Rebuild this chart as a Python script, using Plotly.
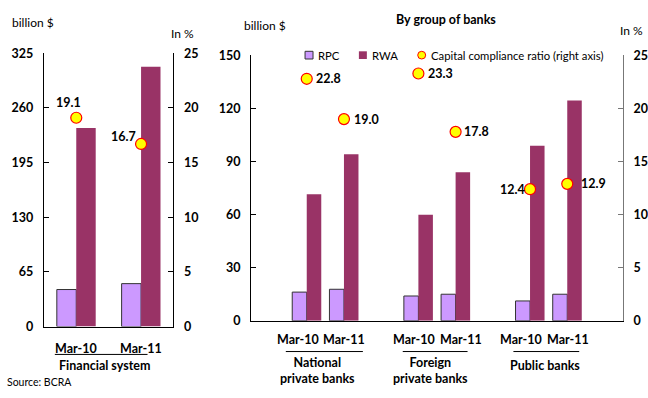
import plotly.graph_objects as go

# ---------------- data ----------------
dates = ["Mar-10", "Mar-11"]
fs_rpc = [44, 51]
fs_rwa = [236, 309]
fs_ratio = [19.1, 16.7]

groups = ["National<br>private banks", "Foreign<br>private banks", "Public banks"]
grp_rpc = [16.2, 17.8, 14.0, 15.0, 11.2, 15.0]
grp_rwa = [71.5, 94.2, 60.0, 84.0, 99.0, 124.5]
grp_ratio = [22.8, 19.0, 23.3, 17.8, 12.4, 12.9]

left_ticks = [0, 65, 130, 195, 260, 325]
right_ticks = [0, 5, 10, 15, 20, 25]
grp_ticks = [0, 30, 60, 90, 120, 150]

# ---------------- style ----------------
W, H = 648, 398
RPC_C = "#CC99FF"
RWA_C = "#993366"
FONT = "Lato"


def px(x):
    return x / W


def py(y):
    return 1 - y / H


def bold(size=12):
    return dict(family=FONT, size=size, color="black", weight="bold")


# x positions
fs_x = list(range(len(dates)))
grp_x = [g * 3 + d + 1 for g in range(len(groups)) for d in range(len(dates))]
grp_labels = [dates[d] for g in range(len(groups)) for d in range(len(dates))]

fig = go.Figure()

# left panel
fig.add_trace(go.Bar(x=fs_x, y=fs_rpc, width=0.3, offset=-0.3, marker=dict(color=RPC_C, line=dict(color="#333333", width=1)),
                     xaxis="x", yaxis="y", showlegend=False))
fig.add_trace(go.Bar(x=fs_x, y=fs_rwa, width=0.3, offset=0, marker=dict(color=RWA_C, line=dict(width=0)),
                     xaxis="x", yaxis="y", showlegend=False))
fig.add_trace(go.Scatter(x=fs_x, y=fs_ratio, mode="markers", xaxis="x", yaxis="y2",
                         marker=dict(size=11, color="#FFFF00", line=dict(color="#FF0000", width=1.2)), showlegend=False))

# right panel
fig.add_trace(go.Bar(x=grp_x, y=grp_rpc, width=0.39, offset=-0.39, marker=dict(color=RPC_C, line=dict(color="#333333", width=1)),
                     xaxis="x3", yaxis="y3", showlegend=False))
fig.add_trace(go.Bar(x=grp_x, y=grp_rwa, width=0.39, offset=0, marker=dict(color=RWA_C, line=dict(width=0)),
                     xaxis="x3", yaxis="y3", showlegend=False))
fig.add_trace(go.Scatter(x=grp_x, y=grp_ratio, mode="markers", xaxis="x3", yaxis="y4",
                         marker=dict(size=11, color="#FFFF00", line=dict(color="#FF0000", width=1.2)), showlegend=False))

axis_common = dict(ticks="inside", ticklen=5, tickcolor="black", showgrid=False, zeroline=False,
                   showline=True, linecolor="black", linewidth=1, tickfont=bold(12.5), fixedrange=True,
                   ticklabelstandoff=7)

fig.update_layout(
    width=W, height=H, margin=dict(l=0, r=0, t=0, b=0),
    paper_bgcolor="white", plot_bgcolor="rgba(0,0,0,0)",
    barmode="overlay", showlegend=False,
    font=dict(family=FONT, color="black"),
    xaxis=dict(domain=[px(44), px(174)], range=[-0.5, 1.5], anchor="y", showticklabels=False, ticks="",
               showline=True, linecolor="black", showgrid=False, zeroline=False, fixedrange=True),
    yaxis=dict(domain=[py(331), py(47)], range=[0, 325], tickvals=left_ticks, anchor="x", **axis_common),
    yaxis2=dict(range=[0, 25], tickvals=right_ticks, overlaying="y", side="right", anchor="x", **axis_common),
    xaxis3=dict(domain=[px(251.7), px(625)], range=[-0.5, 9.5], anchor="y3", showticklabels=False, ticks="",
                showline=True, linecolor="black", showgrid=False, zeroline=False, fixedrange=True),
    yaxis3=dict(domain=[py(325), py(49.3)], range=[0, 150], tickvals=grp_ticks, anchor="x3", **axis_common),
    yaxis4=dict(range=[0, 25], tickvals=right_ticks, overlaying="y3", side="right", anchor="x3",
                **{**axis_common, "linecolor": "#777777", "tickcolor": "#777777"}),
)

ann = []
shapes = []
lab = bold(12.5)

# data labels left panel
fs_shift = [(-8, 15), (-18, 7)]
for i, v in enumerate(fs_ratio):
    dx, dy = fs_shift[i]
    ann.append(dict(x=fs_x[i], y=v, xref="x", yref="y2", text=f"{v:.1f}", showarrow=False,
                    xshift=dx, yshift=dy, font=bold(12.5), xanchor="center", yanchor="middle"))

# data labels right panel
grp_shift = [22, 23, 22, 21, -18, 26]
for i, v in enumerate(grp_ratio):
    ann.append(dict(x=grp_x[i], y=v, xref="x3", yref="y4", text=f"{v:.1f}", showarrow=False,
                    xshift=grp_shift[i], font=bold(12.5), xanchor="center", yanchor="middle"))

# x labels left
for i, d in enumerate(dates):
    ann.append(dict(x=fs_x[i], y=py(354), xref="x", yref="paper", text=d, showarrow=False,
                    font=lab, xanchor="center", yanchor="middle"))
ann.append(dict(x=px(105), y=py(371), xref="paper", yref="paper", text="Financial system", showarrow=False,
                font=lab, xanchor="center", yanchor="middle"))
shapes.append(dict(type="line", xref="paper", yref="paper", x0=px(55), x1=px(148), y0=py(360), y1=py(360),
                   line=dict(color="black", width=1)))

# x labels right
lab_shift = [-9, 0, -4, 5, -9, 1]
for i, d in enumerate(grp_labels):
    ann.append(dict(x=grp_x[i], y=py(344), xref="x3", yref="paper", text=d, showarrow=False,
                    xshift=lab_shift[i], font=lab, xanchor="center", yanchor="middle"))
under = [(286.7, 364), (404, 469), (515, 581)]
gcent = [318, 432, 547]
for g, name in enumerate(groups):
    x0, x1 = under[g]
    shapes.append(dict(type="line", xref="paper", yref="paper", x0=px(x0), x1=px(x1), y0=py(357), y1=py(357),
                       line=dict(color="black", width=1)))
    yc = 376.5 if "<br>" in name else 371
    ann.append(dict(x=px(gcent[g]), y=py(yc), xref="paper", yref="paper", text=name, showarrow=False,
                    font=lab, xanchor="center", yanchor="middle", align="center"))

# titles
small = dict(family=FONT, size=12, color="black")
ann += [
    dict(x=px(10), y=py(15), xref="paper", yref="paper", text="billion $", showarrow=False, font=small,
         xanchor="left", yanchor="middle"),
    dict(x=px(170), y=py(27), xref="paper", yref="paper", text="In %", showarrow=False, font=small,
         xanchor="left", yanchor="middle"),
    dict(x=px(243), y=py(18), xref="paper", yref="paper", text="billion $", showarrow=False, font=small,
         xanchor="left", yanchor="middle"),
    dict(x=px(647), y=py(23), xref="paper", yref="paper", text="In %", showarrow=False, font=small,
         xanchor="right", yanchor="middle"),
    dict(x=px(447), y=py(12), xref="paper", yref="paper", text="By group of banks", showarrow=False,
         font=bold(12.5), xanchor="center", yanchor="middle"),
    dict(x=px(5), y=py(389), xref="paper", yref="paper", text="Source: BCRA", showarrow=False,
         font=dict(family=FONT, size=10.5), xanchor="left", yanchor="middle"),
]

# manual legend
ly = 49
shapes.append(dict(type="rect", xref="paper", yref="paper", x0=px(306), x1=px(314), y0=py(ly - 4), y1=py(ly + 4),
                   fillcolor=RPC_C, line=dict(color="#333333", width=1)))
shapes.append(dict(type="rect", xref="paper", yref="paper", x0=px(360), x1=px(368), y0=py(ly - 4), y1=py(ly + 4),
                   fillcolor=RWA_C, line=dict(width=0)))
shapes.append(dict(type="circle", xref="paper", yref="paper", x0=px(419), x1=px(427), y0=py(ly - 4), y1=py(ly + 4),
                   fillcolor="#FFFF00", line=dict(color="#FF0000", width=1)))
for x, t in [(317, "RPC"), (371, "RWA"), (430, "Capital compliance ratio (right axis)")]:
    ann.append(dict(x=px(x), y=py(ly), xref="paper", yref="paper", text=t, showarrow=False,
                    font=dict(family=FONT, size=11.3, color="black"), xanchor="left", yanchor="middle"))

fig.update_layout(annotations=ann, shapes=shapes)
fig.write_html("out.html")
